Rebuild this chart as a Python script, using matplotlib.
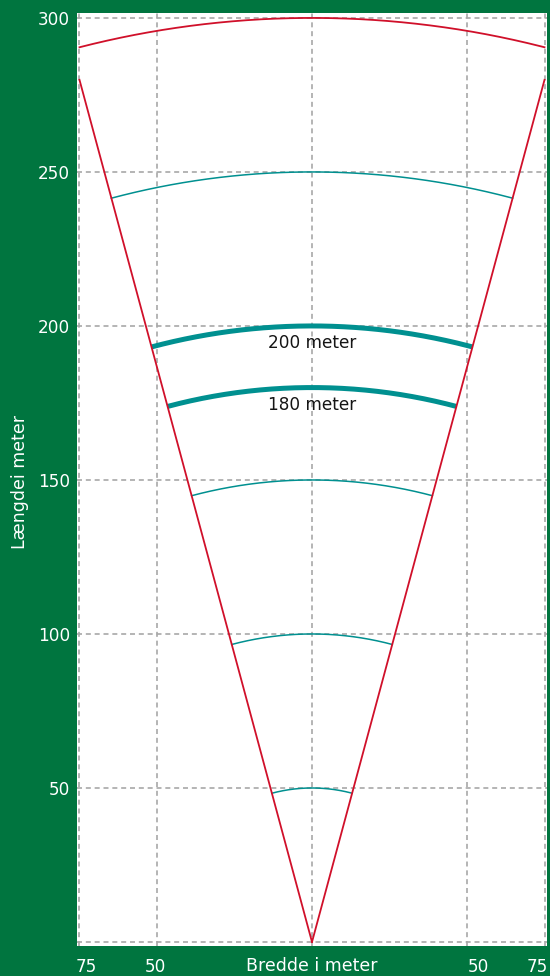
import numpy as np
import matplotlib
matplotlib.use("Agg")
import matplotlib.pyplot as plt
from matplotlib.transforms import ScaledTranslation

plt.rcParams['font.family'] = ['DejaVu Sans']

# data
half_angle_deg = 15.0
thin_radii = [50, 100, 150, 250]
thick_radii = [180, 200]
thick_labels = ["180 meter", "200 meter"]
outer_radius = 300
outer_half_width = 75
ray_end_x = 75
x_grid = [-75, -50, 0, 50, 75]
y_grid = [0, 50, 100, 150, 200, 250, 300]
y_ticks = [50, 100, 150, 200, 250, 300]
x_ticks = [-75, -50, 50, 75]
x_ticklabels = ["75", "50", "50", "75"]

GREEN = "#00753F"
RED = "#D0102A"
TEAL = "#009090"
GRID = "#A8A8A8"

fig = plt.figure(figsize=(5.5, 9.76), dpi=100)
fig.patch.set_facecolor(GREEN)
ax = fig.add_axes([77/550, 30/976, 470/550, 933/976])
ax.set_facecolor("white")
ax.set_xlim(-75.8, 75.8)
ax.set_ylim(-1.3, 301.6)
for s in ax.spines.values():
    s.set_visible(False)

for gx in x_grid:
    ax.axvline(gx, color=GRID, lw=1.2, ls=(0, (3, 2.3)), zorder=1)
for gy in y_grid:
    ax.axhline(gy, color=GRID, lw=1.2, ls=(0, (3, 2.3)), zorder=1)

a = np.deg2rad(half_angle_deg)
th = np.linspace(-a, a, 200)
for r in thin_radii:
    ax.plot(r*np.sin(th), r*np.cos(th), color=TEAL, lw=1.1, zorder=3)
for r, lab in zip(thick_radii, thick_labels):
    ax.plot(r*np.sin(th), r*np.cos(th), color=TEAL, lw=3.6, zorder=3,
            solid_capstyle='butt')
    ax.text(0, r - 5.6, lab, ha='center', va='center', fontsize=12.2,
            color='#151515', zorder=4)

ao = np.arcsin(outer_half_width / outer_radius)
tho = np.linspace(-ao, ao, 400)
ax.plot(outer_radius*np.sin(tho), outer_radius*np.cos(tho), color=RED, lw=1.3, zorder=4)
for sgn in (-1, 1):
    ax.plot([0, sgn*ray_end_x], [0, ray_end_x/np.tan(a)],
            color=RED, lw=1.3, zorder=4)

ax.set_yticks(y_ticks)
ax.set_yticklabels([str(v) for v in y_ticks])
ax.set_xticks(x_ticks)
ax.set_xticklabels(x_ticklabels)
ax.tick_params(axis='both', length=0, colors='white', labelsize=12.2)
ax.tick_params(axis='y', pad=5)
ax.tick_params(axis='x', pad=9)

# pixel shifts of x tick labels to match the reference placement
shifts_px = [6.5, -2, 11, -7.5]
for lbl, dx in zip(ax.get_xticklabels(), shifts_px):
    lbl.set_transform(lbl.get_transform() + ScaledTranslation(dx/100, 0, fig.dpi_scale_trans))

fig.text(312/550, 1 - 966/976, "Bredde i meter", color='white', fontsize=12.5,
         ha='center', va='center')
fig.text(20/550, 1 - 482/976, "Længdei meter", color='white', fontsize=12.5,
         ha='center', va='center', rotation=90)

fig.savefig("out.png", dpi=100, facecolor=GREEN)
